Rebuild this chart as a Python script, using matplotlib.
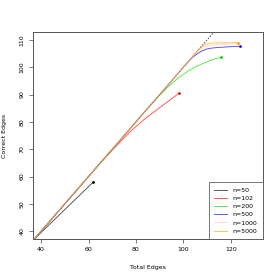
import matplotlib
matplotlib.use("Agg")
import matplotlib.pyplot as plt

# curves: total edges vs correct edges
n_labels = ["n=50", "n=102", "n=200", "n=500", "n=1000", "n=5000"]
colors = ["black", "red", "#00dd00", "blue", "pink", "orange"]

x50 = [37, 62]
y50 = [37, 58]

x102 = [37, 65, 72, 78, 84, 90, 94, 98]
y102 = [37, 65, 71.5, 76.8, 81.3, 85.2, 87.8, 90.4]

x200 = [37, 85, 90, 94, 98, 102, 106, 110, 113, 116]
y200 = [37, 85, 89.7, 93.2, 96.2, 98.6, 100.5, 102.0, 103.0, 103.6]

x500 = [37, 102, 104, 106, 108, 110, 113, 118, 124]
y500 = [37, 102, 103.7, 105.0, 106.0, 106.7, 107.1, 107.4, 107.7]

x1000 = [37, 105, 107, 109, 112, 118, 123.5]
y1000 = [37, 105, 106.6, 107.6, 108.1, 108.4, 108.6]

x5000 = [37, 107, 109, 111, 115, 123]
y5000 = [37, 107, 108.3, 108.8, 108.9, 109.0]

diag = [37, 112.5]

xs = [x50, x102, x200, x500, x1000, x5000]
ys = [y50, y102, y200, y500, y1000, y5000]

fig = plt.figure(figsize=(2.8, 2.8), dpi=100)
ax = fig.add_axes([0.118, 0.146, 0.821, 0.740])

ax.plot(diag, diag, color="#444444", ls=(0, (1.5, 1.5)), lw=0.7)
for x, y, c, lab in zip(xs, ys, colors, n_labels):
    ax.plot(x, y, color=c, lw=0.7, alpha=0.65, label=lab)
    ax.plot(x[-1], y[-1], "o", color=c, ms=2, mew=0)

ax.set_xlim(36.6, 133.5)
ax.set_ylim(37.1, 112.9)
ax.set_xticks([40, 60, 80, 100, 120])
ax.set_yticks([40, 50, 60, 70, 80, 90, 100, 110])
ax.tick_params(labelsize=4.5, length=3, width=0.5, color="#444444", pad=3)
for t in ax.get_yticklabels():
    t.set_rotation(90)
    t.set_va("center")
for s in ax.spines.values():
    s.set_linewidth(0.7)
    s.set_color("#555555")

ax.set_xlabel("Total Edges", fontsize=4.5, labelpad=9)
ax.set_ylabel("Correct Edges", fontsize=4.5, labelpad=9)

leg = ax.legend(loc="lower right", fontsize=4.5, frameon=True, fancybox=False,
                borderaxespad=0, handlelength=2.1, handletextpad=0.9,
                labelspacing=0.45, borderpad=0.85)
leg.get_frame().set_edgecolor("#555555")
leg.get_frame().set_linewidth(0.7)

fig.savefig("out.png", dpi=100)
